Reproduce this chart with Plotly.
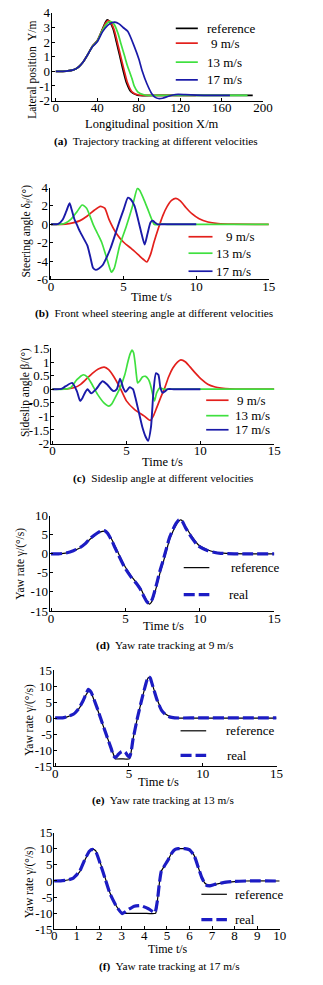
import plotly.graph_objects as go

# ---------------- data ----------------
# (a) trajectory: longitudinal X (m) vs lateral Y (m)
traj_ref_x = [0, 10, 17, 22, 26, 30, 35.5, 40, 44.8, 47.5, 49.5, 52, 55.5, 58.5, 61.7, 65, 68, 72.5, 78.7, 85, 100, 130, 160, 190]
traj_ref_y = [0, 0.02, 0.1, 0.3, 0.6, 1.05, 1.73, 2.1, 2.85, 3.3, 3.53, 3.4, 2.86, 2.0, 1.06, 0.05, -0.74, -1.4, -1.64, -1.66, -1.65, -1.65, -1.65, -1.65]
traj_9_x = [0, 10, 17, 22, 26, 30, 35.5, 40, 45, 48, 50.5, 53, 56.5, 59.5, 62.7, 66, 69, 73.5, 80, 86, 100, 120, 135]
traj_9_y = [0, 0.02, 0.1, 0.3, 0.6, 1.05, 1.73, 2.1, 2.85, 3.3, 3.48, 3.35, 2.8, 1.95, 1.0, 0.05, -0.75, -1.4, -1.62, -1.65, -1.65, -1.65, -1.65]
traj_13_x = [0, 10, 17, 22, 26, 30, 35.5, 40, 45, 49, 52.5, 56, 60, 63, 66.3, 69, 71, 73.5, 75.6, 79, 85, 90, 100, 130, 160, 185]
traj_13_y = [0, 0.02, 0.1, 0.3, 0.6, 1.05, 1.72, 2.08, 2.8, 3.25, 3.42, 3.25, 2.6, 1.85, 1.06, 0.4, 0.0, -0.5, -1.0, -1.4, -1.6, -1.65, -1.65, -1.65, -1.65, -1.65]
traj_17_x = [0, 10, 17, 22, 26, 30, 35.5, 40, 45, 50, 54, 57, 61, 65, 69.4, 75.6, 80.2, 83.3, 87.9, 92.6, 96, 99, 103, 108, 113, 118, 125, 135, 150, 168]
traj_17_y = [0, 0.02, 0.1, 0.3, 0.6, 1.05, 1.7, 2.02, 2.7, 3.15, 3.33, 3.37, 3.25, 3.0, 2.74, 1.73, 0.83, 0.04, -0.85, -1.53, -1.78, -1.86, -1.84, -1.72, -1.62, -1.58, -1.6, -1.63, -1.65, -1.65]

# (b) front wheel steering angle (deg) vs time (s)
steer_9_t = [0, 1.0, 1.5, 2.0, 2.5, 3.0, 3.4, 3.7, 4.0, 4.5, 5.0, 5.5, 6.0, 6.35, 6.6, 6.85, 7.1, 7.4, 7.7, 8.0, 8.3, 8.6, 8.9, 9.3, 9.7, 10.2, 10.8, 11.5, 12.5, 15]
steer_9_v = [0, 0.02, 0.15, 0.4, 0.9, 1.55, 1.95, 1.75, 0.5, -1.0, -1.95, -2.6, -3.3, -3.8, -4.1, -3.3, -1.9, -0.4, 0.95, 1.95, 2.6, 2.82, 2.55, 1.8, 1.15, 0.6, 0.25, 0.08, 0.01, 0]
steer_13_t = [0, 0.7, 1.0, 1.4, 1.8, 2.15, 2.45, 2.9, 3.2, 3.5, 3.8, 4.05, 4.15, 4.35, 4.73, 5.17, 5.6, 5.95, 6.1, 6.37, 6.65, 6.92, 7.1, 7.3, 7.6, 8, 10, 12, 15]
steer_13_v = [0, 0.02, 0.15, 0.6, 1.4, 2.1, 1.75, 0.0, -1.0, -2.0, -3.5, -4.8, -5.2, -4.8, -2.3, -0.3, 1.9, 3.9, 3.7, 2.8, 1.7, 0.6, 0.0, -0.05, 0.02, 0, 0, 0, 0]
steer_17_t = [0, 0.5, 0.8, 1.05, 1.28, 1.42, 1.6, 1.8, 2.0, 2.2, 2.5, 2.7, 2.9, 3.08, 3.3, 3.55, 3.8, 4.1, 4.4, 4.73, 5.0, 5.3, 5.5, 5.75, 6.0, 6.2, 6.45, 6.65, 6.85, 7.0, 7.15, 7.35, 7.6, 8, 10]
steer_17_v = [0, 0.05, 0.5, 1.4, 2.3, 1.6, 0.6, -0.1, -0.8, -1.4, -2.3, -3.5, -4.75, -4.95, -4.8, -4.45, -3.7, -2.6, -1.2, 0.4, 1.6, 2.9, 2.7, 2.0, 0.5, -0.8, -2.2, -1.0, 0.2, 0.4, 0.2, 0.0, 0.0, 0, 0]

# (c) sideslip angle (deg) vs time (s)
slip_9_t = [0, 1.0, 1.5, 1.88, 2.3, 2.74, 3.1, 3.5, 3.8, 4.14, 4.57, 5.0, 5.54, 6.19, 6.62, 6.85, 7.05, 7.3, 7.59, 7.85, 8.13, 8.45, 8.68, 9.0, 9.3, 9.65, 10.1, 10.5, 11.0, 11.4, 12.0, 13, 15]
slip_9_v = [0, 0.01, 0.06, 0.17, 0.38, 0.6, 0.74, 0.81, 0.72, 0.47, 0.05, -0.43, -0.74, -0.98, -1.15, -0.95, -0.68, -0.33, 0.05, 0.45, 0.77, 1.0, 1.08, 1.0, 0.82, 0.6, 0.35, 0.18, 0.08, 0.04, 0.01, 0, 0]
slip_13_t = [0, 0.8, 1.23, 1.65, 2.08, 2.35, 2.62, 3.05, 3.48, 3.81, 4.0, 4.24, 4.57, 4.89, 5.1, 5.25, 5.38, 5.48, 5.58, 5.68, 5.76, 5.9, 6.08, 6.3, 6.5, 6.62, 6.83, 6.9, 7.05, 7.27, 7.5, 8, 10, 12, 15]
slip_13_v = [0, 0, 0.05, 0.35, 0.53, 0.45, 0.23, -0.19, -0.5, -0.62, -0.55, -0.31, 0.05, 0.53, 1.01, 1.3, 1.44, 1.35, 1.0, 0.5, 0.23, 0.3, 0.45, 0.47, 0.35, 0.17, -0.31, -0.43, -0.13, 0.05, 0, 0, 0, 0, 0]
slip_17_t = [0, 0.6, 0.9, 1.33, 1.65, 1.87, 2.05, 2.2, 2.37, 2.62, 2.95, 3.38, 3.7, 4.0, 4.14, 4.35, 4.57, 4.78, 4.94, 5.22, 5.44, 5.6, 5.76, 6.08, 6.3, 6.47, 6.66, 6.83, 7.0, 7.16, 7.3, 7.44, 7.6, 7.8, 8.2, 10]
slip_17_v = [0, 0.01, 0.11, 0.23, -0.07, -0.43, -0.3, -0.13, 0.0, -0.15, 0.0, 0.29, 0.17, -0.02, -0.07, 0.0, 0.39, 0.05, -0.1, 0.07, 0.0, -0.3, -0.66, -1.4, -1.75, -1.9, -1.4, -0.07, 0.59, 0.53, 0.05, -0.13, -0.08, 0, 0, 0]

# (d) yaw rate at 9 m/s (deg/s)
yaw9_t = [0, 0.5, 1.08, 1.5, 1.94, 2.3, 2.58, 2.9, 3.23, 3.45, 3.61, 3.8, 4.09, 4.3, 4.52, 4.95, 5.38, 5.8, 6.05, 6.24, 6.45, 6.6, 6.8, 7.1, 7.3, 7.53, 7.75, 7.96, 8.2, 8.4, 8.55, 8.67, 8.8, 9.03, 9.46, 9.89, 10.5, 11.0, 11.4, 12.3, 13.5, 15]
yaw9_ref = [0, 0.02, 0.26, 0.8, 1.55, 2.5, 3.7, 4.7, 5.6, 5.9, 6.0, 5.5, 3.7, 2.0, 0.26, -3.2, -5.8, -7.9, -9.3, -10.9, -12.4, -13.2, -12.3, -8.4, -5.3, -2.3, 0.8, 3.7, 6.0, 7.6, 8.5, 8.9, 8.8, 7.2, 4.6, 2.4, 1.1, 0.5, 0.26, 0.05, 0, 0]
yaw9_real = [0, 0.02, 0.3, 0.85, 1.65, 2.7, 3.9, 4.9, 5.8, 6.1, 6.1, 5.4, 3.4, 1.6, -0.2, -3.6, -6.1, -8.1, -9.6, -11.2, -12.6, -13.0, -11.9, -7.8, -4.7, -1.7, 1.4, 4.3, 6.5, 8.0, 8.8, 9.0, 8.7, 6.9, 4.2, 2.1, 0.9, 0.35, 0.15, 0.02, 0, 0]

# (e) yaw rate at 13 m/s (deg/s)
yaw13_ref_t = [0, 0.5, 0.82, 1.26, 1.6, 1.9, 2.1, 2.3, 2.45, 2.66, 2.9, 3.1, 3.53, 3.8, 3.96, 4.07, 4.5, 5.04, 5.15, 5.26, 5.58, 5.9, 6.1, 6.23, 6.34, 6.45, 6.55, 6.88, 7.2, 7.5, 7.74, 8.1, 8.4, 10, 15]
yaw13_ref = [0, 0.05, 0.4, 1.2, 2.9, 5.3, 7.3, 8.6, 7.8, 5.3, 2.3, -0.35, -6, -9.3, -11.4, -12.7, -12.7, -12.7, -10.5, -7, 0.15, 6.3, 9.8, 11.9, 12.7, 12.5, 11, 6.3, 2.7, 1.2, 0.6, 0.15, 0, 0, 0]
yaw13_real_t = [0, 0.5, 0.82, 1.26, 1.6, 1.9, 2.1, 2.25, 2.45, 2.66, 2.9, 3.1, 3.53, 3.8, 3.96, 4.1, 4.28, 4.45, 4.6, 4.75, 4.9, 5.04, 5.15, 5.26, 5.58, 5.9, 6.1, 6.23, 6.34, 6.45, 6.55, 6.88, 7.2, 7.5, 7.74, 8.1, 8.4, 10, 15]
yaw13_real = [0.1, 0.1, 0.45, 1.3, 3.0, 5.5, 7.6, 9.0, 8.0, 5.5, 2.5, -0.3, -6, -9.5, -11.8, -12.3, -11.3, -10.6, -10.3, -10.6, -11.6, -12.2, -10.5, -7, 0.2, 6.4, 9.9, 12.0, 12.9, 12.5, 11, 6.0, 2.5, 1.0, 0.4, 0.1, 0.05, 0.1, 0.1]

# (f) yaw rate at 17 m/s (deg/s)
yaw17_ref_t = [0, 0.29, 0.6, 0.85, 1.13, 1.35, 1.56, 1.7, 1.84, 2.06, 2.27, 2.48, 2.77, 2.95, 3.06, 3.5, 4.0, 4.5, 4.58, 4.66, 4.75, 4.9, 5.05, 5.2, 5.35, 5.5, 5.8, 6.0, 6.2, 6.4, 6.55, 6.7, 6.85, 7.0, 7.5, 8.0, 8.5, 10]
yaw17_ref = [0, 0.06, 0.3, 0.8, 2.8, 6.3, 8.9, 9.9, 9.4, 5.3, 0.8, -3.8, -7.9, -9.6, -10, -10, -10, -10, -6, -1, 3, 4.8, 6.5, 8.5, 9.7, 10, 10, 10, 8, 4, 1, -0.8, -1.3, -1.2, -0.6, -0.2, 0, 0]
yaw17_real_t = [0, 0.29, 0.6, 0.85, 1.13, 1.35, 1.56, 1.7, 1.84, 2.06, 2.27, 2.48, 2.77, 3.02, 3.3, 3.55, 3.83, 4.18, 4.47, 4.58, 4.66, 4.75, 4.9, 5.05, 5.2, 5.35, 5.5, 5.8, 6.0, 6.2, 6.4, 6.55, 6.72, 6.9, 7.1, 7.5, 8.0, 8.5, 10]
yaw17_real = [0, 0.05, 0.3, 0.9, 3.0, 6.5, 9.2, 9.8, 9.2, 5.0, 0.5, -4.0, -8.0, -10.1, -8.8, -7.8, -7.6, -8.6, -9.8, -6, -1, 3, 4.8, 6.5, 8.5, 9.7, 10, 10, 9.6, 8, 4, 1, -1.2, -1.5, -1.1, -0.5, -0.1, 0, 0]

# tick labels
ticks_a_x = [0, 40, 80, 120, 160, 200]
ticks_a_y = [-2, -1, 0, 1, 2, 3, 4]
ticks_b_y = [-6, -4, -2, 0, 2, 4]
ticks_c_y = [-2, -1.5, -1, -0.5, 0, 0.5, 1, 1.5]
ticks_d_y = [-15, -10, -5, 0, 5, 10]
ticks_ef_y = [-15, -10, -5, 0, 5, 10, 15]
ticks_t15 = [0, 5, 10, 15]
ticks_t10 = list(range(0, 11))

# ---------------- styling ----------------
W, H = 323, 985
FONT = "Liberation Serif"
C_REF = "#000000"
C_RED = "#e3201c"
C_GREEN = "#3fe03f"
C_BLUE = "#1a1aa8"
C_REAL = "#1c1cc4"
LW = 1.7
DASH = "11px,4px"


def px(x):
    return x / W


def py(y):
    return 1 - y / H


def lab(v):
    return "%g" % v


fig = go.Figure()


def add_line(x, y, color, width, axis, dash="solid", smoothing=0.6):
    fig.add_trace(go.Scatter(
        x=x, y=y, mode="lines", xaxis="x" + axis, yaxis="y" + axis,
        line=dict(color=color, width=width, dash=dash, shape="spline", smoothing=smoothing),
        showlegend=False, hoverinfo="skip"))


# (a)
add_line(traj_ref_x, traj_ref_y, C_REF, LW, "")
add_line(traj_9_x, traj_9_y, C_RED, LW, "")
add_line(traj_13_x, traj_13_y, C_GREEN, LW, "")
add_line(traj_17_x, traj_17_y, C_BLUE, LW, "")
# (b)
add_line(steer_9_t, steer_9_v, C_RED, LW, "2")
add_line(steer_13_t, steer_13_v, C_GREEN, LW, "2")
add_line(steer_17_t, steer_17_v, C_BLUE, 1.9, "2")
# (c)
add_line(slip_9_t, slip_9_v, C_RED, LW, "3")
add_line(slip_13_t, slip_13_v, C_GREEN, LW, "3")
add_line(slip_17_t, slip_17_v, C_BLUE, 1.9, "3")
# (d)
add_line(yaw9_t, yaw9_ref, C_REF, 1.2, "4")
add_line(yaw9_t, yaw9_real, C_REAL, 3.2, "4", dash=DASH)
# (e)
add_line(yaw13_ref_t, yaw13_ref, C_REF, 1.2, "5", smoothing=0.4)
add_line(yaw13_real_t, yaw13_real, C_REAL, 3.2, "5", dash=DASH, smoothing=0.4)
# (f)
add_line(yaw17_ref_t, yaw17_ref, C_REF, 1.2, "6", smoothing=0.4)
add_line(yaw17_real_t, yaw17_real, C_REAL, 3.2, "6", dash=DASH, smoothing=0.4)

axis_common = dict(showline=True, linecolor="black", linewidth=1, ticks="inside", ticklen=3,
                   tickcolor="black", showgrid=False, zeroline=False, mirror=False,
                   tickfont=dict(family=FONT, size=13, color="black"), fixedrange=True)


def xax(domain, rng, vals, anchor, standoff=-5):
    return dict(axis_common, domain=domain, range=rng, tickvals=vals,
                ticktext=[lab(v) for v in vals], anchor=anchor, ticklabelstandoff=standoff)


def yax(domain, rng, vals, anchor):
    return dict(axis_common, domain=domain, range=rng, tickvals=vals,
                ticktext=[lab(v) for v in vals], anchor=anchor, ticklabelstandoff=-2)


layout = dict(
    width=W, height=H, margin=dict(l=0, r=0, t=0, b=0),
    paper_bgcolor="white", plot_bgcolor="white",
    font=dict(family=FONT, size=12, color="black"),
    xaxis=xax([px(50.7), px(271)], [-4, 200], ticks_a_x, "y"),
    yaxis=yax([py(95), py(6)], [-2, 4], ticks_a_y, "x"),
    xaxis2=xax([px(48.5), px(277)], [-0.1, 15], ticks_t15, "y2"),
    yaxis2=yax([py(276.7), py(183.3)], [-6, 4], ticks_b_y, "x2"),
    xaxis3=xax([px(50), px(282.7)], [-0.1, 15], ticks_t15, "y3"),
    yaxis3=yax([py(443.3), py(346.7)], [-2, 1.5], ticks_c_y, "x3"),
    xaxis4=xax([px(48.5), px(282.7)], [-0.1, 15], ticks_t15, "y4"),
    yaxis4=yax([py(613.3), py(516.7)], [-15, 10], ticks_d_y, "x4"),
    xaxis5=xax([px(52.8), px(285)], [-0.1, 15], ticks_t15, "y5"),
    yaxis5=yax([py(771), py(673.3)], [-15, 15], ticks_ef_y, "x5"),
    xaxis6=xax([px(53.3), px(288.3)], [0, 10], ticks_t10, "y6", standoff=-6),
    yaxis6=yax([py(936.7), py(838.3)], [-15, 15], ticks_ef_y, "x6"),
)

annotations = []
shapes = []


def text(x, y, s, size=12, angle=0, xanchor="center"):
    annotations.append(dict(x=px(x), y=py(y), xref="paper", yref="paper", text=s,
                            showarrow=False, textangle=angle, xanchor=xanchor, yanchor="middle",
                            font=dict(family=FONT, size=size, color="black")))


def legend_item(x0, x1, y, tx, label, color, width, dash="solid"):
    shapes.append(dict(type="line", xref="paper", yref="paper", x0=px(x0), x1=px(x1),
                       y0=py(y), y1=py(y), line=dict(color=color, width=width, dash=dash)))
    text(tx, y, label, size=13, xanchor="left")


# axis titles
text(155, 119, "Longitudinal position X/m", 12.5)
text(30, 64, "Lateral position  Y/m", 11.5, -90)
text(155, 294.5, "Time t/s", 12.5)
text(24, 228, "Steering angle δ<sub>f</sub>/(°)", 11.5, -90)
text(166, 462, "Time t/s", 12.5)
text(23, 392, "Sideslip angle β/(°)", 11.5, -90)
text(167, 628.5, "Time t/s", 12.5)
text(18, 565, "Yaw rate γ/(°/s)", 11.5, -90)
text(162, 787, "Time t/s", 12.5)
text(28, 724, "Yaw rate γ/(°/s)", 11.5, -90)
text(172, 957, "Time t/s", 12)
text(28, 889, "Yaw rate γ/(°/s)", 11.5, -90)

# captions
CAP = 11.3
text(159, 137, "<b>(a)</b>  Trajectory tracking at different velocities", CAP)
text(157, 311, "<b>(b)</b>  Front wheel steering angle at different velocities", CAP)
text(167, 479, "<b>(c)</b>  Sideslip angle at different velocities", CAP)
text(168, 648, "<b>(d)</b>  Yaw rate tracking at 9 m/s", CAP)
text(167, 806, "<b>(e)</b>  Yaw rate tracking at 13 m/s", CAP)
text(174, 974, "<b>(f)</b>  Yaw rate tracking at 17 m/s", CAP)

# legends
legend_item(180, 203, 21.7, 210, "reference", C_REF, LW)
legend_item(180, 203, 36.7, 215, "9 m/s", C_RED, LW)
legend_item(180, 203, 56, 210, "13 m/s", C_GREEN, LW)
legend_item(180, 203, 74, 210, "17 m/s", C_BLUE, LW)

legend_item(193.3, 218.3, 233.3, 230, "9 m/s", C_RED, LW)
legend_item(193.3, 218.3, 250, 220, "13 m/s", C_GREEN, LW)
legend_item(193.3, 218.3, 268.3, 220, "17 m/s", C_BLUE, LW)

legend_item(211.7, 235, 399.3, 242, "9 m/s", C_RED, LW)
legend_item(211.7, 235, 415, 240, "13 m/s", C_GREEN, LW)
legend_item(211.7, 235, 429.3, 240, "17 m/s", C_BLUE, LW)

legend_item(188.3, 215, 569.3, 235, "reference", C_REF, 1.2)
legend_item(188.3, 215, 596.7, 233, "real", C_REAL, 3.2, DASH)

legend_item(185, 211.7, 735, 230, "reference", C_REF, 1.2)
legend_item(185, 211.7, 760, 231.7, "real", C_REAL, 3.2, DASH)

legend_item(206.7, 233.3, 901, 240, "reference", C_REF, 1.2)
legend_item(206.7, 233.3, 926.7, 240, "real", C_REAL, 3.2, DASH)

layout["annotations"] = annotations
layout["shapes"] = shapes
fig.update_layout(**layout)

fig.write_html("out.html")
